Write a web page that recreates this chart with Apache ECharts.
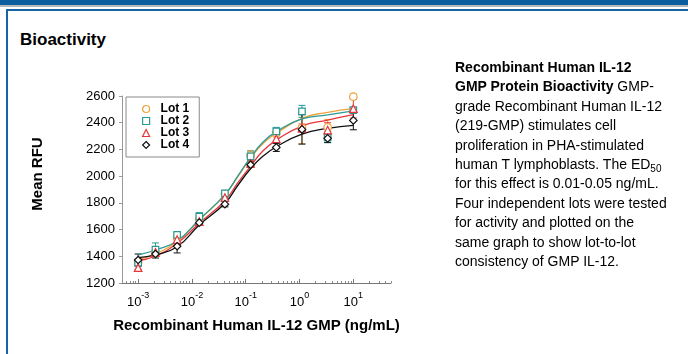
<!DOCTYPE html>
<html>
<head>
<meta charset="utf-8">
<script src="https://cdn.jsdelivr.net/npm/echarts@6/dist/echarts.min.js"></script>
<style>
  html, body { margin: 0; padding: 0; background: #fff; }
  body { width: 688px; height: 354px; overflow: hidden; position: relative; font-family: 'Liberation Sans', Arial, sans-serif; color: #000; }
  .topbar { position: absolute; left: 0; top: 0; width: 688px; height: 5px; background: #0b5d9f; }
  .grayline { position: absolute; left: 0; top: 5px; width: 688px; height: 2px; background: #b3b8bd; }
  .box { position: absolute; left: 6px; top: 9px; width: 720px; height: 400px; border-left: 2px solid #1763a6; border-top: 2px solid #1763a6; }
  .title { position: absolute; left: 20px; top: 30px; font-size: 17px; line-height: 20px; font-weight: bold; }
  #chart { position: absolute; left: 0; top: 0; width: 688px; height: 354px; }
  #desc { position: absolute; left: 455px; top: 58px; font-size: 14px; line-height: 19.4px; white-space: nowrap; }
  #desc sub { font-size: 10px; line-height: 0; vertical-align: -3px; }
</style>
</head>
<body>
<div class="topbar"></div>
<div class="grayline"></div>
<div class="box"></div>
<div class="title">Bioactivity</div>
<div id="chart"></div>
<div id="desc"><b>Recombinant Human IL-12</b><br><b>GMP Protein Bioactivity</b> GMP-<br>grade Recombinant Human IL-12<br>(219-GMP) stimulates cell<br>proliferation in PHA-stimulated<br>human T lymphoblasts. The ED<sub>50</sub><br>for this effect is 0.01-0.05 ng/mL.<br>Four independent lots were tested<br>for activity and plotted on the<br>same graph to show lot-to-lot<br>consistency of GMP IL-12.</div>
<script>
// concentrations (ng/mL)
const conc = [0.001, 0.0021, 0.0053, 0.0137, 0.041, 0.123, 0.37, 1.11, 3.33, 10]

const lotNames = ['Lot 1', 'Lot 2', 'Lot 3', 'Lot 4']

// measured means (RFU)
const lot1 = [1355, 1432, 1540, 1680, 1868, 2155, 2322, 2362, 2365, 2595]
const lot2 = [1352, 1450, 1560, 1697, 1871, 2148, 2335, 2485, 2290, 2495]
const lot3 = [1315, 1430, 1525, 1660, 1840, 2095, 2280, 2360, 2345, 2505]
const lot4 = [1372, 1417, 1475, 1652, 1790, 2085, 2215, 2350, 2283, 2417]

// error bar half-widths
const err1 = [20, 20, 20, 25, 20, 35, 30, 120, 60, 20]
const err2 = [20, 50, 15, 30, 20, 40, 30, 45, 40, 20]
const err3 = [15, 20, 20, 20, 20, 20, 60, 30, 55, 70]
const err4 = [45, 30, 50, 20, 20, 20, 30, 110, 30, 70]

// fitted curves at these concentrations
const fitConc = [0.001, 0.0021, 0.0053, 0.0137, 0.041, 0.071, 0.123, 0.21, 0.37, 1.11, 3.33, 10]
const fit1 = [1377, 1417, 1510, 1672, 1860, 1995, 2135, 2245, 2320, 2433, 2478, 2505]
const fit2 = [1410, 1447, 1514, 1675, 1862, 2000, 2140, 2255, 2333, 2428, 2458, 2488]
const fit3 = [1367, 1402, 1497, 1647, 1816, 1950, 2075, 2190, 2270, 2375, 2420, 2460]
const fit4 = [1390, 1410, 1472, 1634, 1797, 1930, 2055, 2150, 2220, 2315, 2358, 2380]

const yTicks = [1200, 1400, 1600, 1800, 2000, 2200, 2400, 2600]
const xDecades = [-3, -2, -1, 0, 1]

const colors = ['#eea23a', '#2a9a96', '#e8353b', '#111111']
const symbols = ['circle', 'rect', 'triangle', 'diamond']
const means = [lot1, lot2, lot3, lot4]
const errs = [err1, err2, err3, err4]
const fits = [fit1, fit2, fit3, fit4]

const X_MIN = -3.3
const X_MAX = 1.7

// log positions of the minor ticks
const minorTicks = []
for (let n = -4; n <= 1; n++) {
  for (let k = 2; k <= 9; k++) {
    const v = Math.log10(k) + n
    if (v > X_MIN && v < X_MAX) minorTicks.push(v)
  }
}

const toPts = (xs, vals) => xs.map((c, i) => [Math.log10(c), vals[i]])
const toBars = (vals, e) => conc.map((c, i) => [Math.log10(c), vals[i] - e[i], vals[i] + e[i]])

const font = "'Liberation Sans', Arial, sans-serif"

function errRender(color) {
  return (params, api) => {
    const x = api.value(0)
    const top = api.coord([x, api.value(2)])
    const bot = api.coord([x, api.value(1)])
    const w = 3.5
    const style = { stroke: color, lineWidth: 1 }
    return {
      type: 'group',
      children: [
        { type: 'line', shape: { x1: top[0], y1: top[1], x2: bot[0], y2: bot[1] }, style },
        { type: 'line', shape: { x1: top[0] - w, y1: top[1], x2: top[0] + w, y2: top[1] }, style },
        { type: 'line', shape: { x1: bot[0] - w, y1: bot[1], x2: bot[0] + w, y2: bot[1] }, style },
      ],
    }
  }
}

const series = []
means.forEach((vals, i) => {
  series.push({
    name: lotNames[i] + ' err',
    type: 'custom',
    renderItem: errRender(colors[i]),
    data: toBars(vals, errs[i]),
    encode: { x: 0, y: [1, 2] },
    z: 1,
  })
})
fits.forEach((vals, i) => {
  series.push({
    name: lotNames[i] + ' fit',
    type: 'line',
    data: toPts(fitConc, vals),
    smooth: 0.5,
    showSymbol: false,
    symbol: 'none',
    lineStyle: { color: colors[i], width: 1.3 },
    z: 2,
  })
})
means.forEach((vals, i) => {
  series.push({
    name: lotNames[i],
    type: 'scatter',
    data: toPts(conc, vals),
    symbol: symbols[i],
    symbolSize: i === 1 ? 6.5 : 7.5,
    itemStyle: { color: '#fff', borderColor: colors[i], borderWidth: 1.2, opacity: 1 },
    z: 3,
  })
})

const chart = echarts.init(document.getElementById('chart'))
chart.setOption({
  animation: false,
  textStyle: { fontFamily: font },
  grid: { left: 122, top: 96, width: 269, height: 187 },
  legend: {
    orient: 'vertical',
    left: 126,
    top: 97,
    padding: [6, 10, 6, 16],
    itemWidth: 7,
    itemHeight: 7,
    itemGap: 0,
    borderColor: '#8a8a8a',
    borderWidth: 1,
    selectedMode: false,
    textStyle: { fontFamily: font, fontSize: 12, fontWeight: 'bold', color: '#000', padding: [0, 0, 0, 6] },
    data: lotNames.map((n, i) => ({
      name: n,
      icon: symbols[i],
      itemStyle: { color: '#fff', borderColor: colors[i], borderWidth: 1.2 },
    })),
  },
  xAxis: [
    {
      type: 'value',
      min: X_MIN,
      max: X_MAX,
      position: 'bottom',
      name: 'Recombinant Human IL-12 GMP (ng/mL)',
      nameLocation: 'middle',
      nameGap: 35,
      nameTextStyle: { fontFamily: font, fontSize: 15, fontWeight: 'bold', color: '#000' },
      axisLine: { onZero: false, lineStyle: { color: '#777', width: 1 } },
      axisTick: { inside: true, length: 4, customValues: xDecades, lineStyle: { color: '#777' } },
      axisLabel: {
        customValues: xDecades,
        margin: 8,
        formatter: v => '{b|10}{s|' + v + '}',
        rich: {
          b: { fontFamily: font, fontSize: 13, color: '#000', lineHeight: 18, verticalAlign: 'bottom' },
          s: { fontFamily: font, fontSize: 9, color: '#000', lineHeight: 10, verticalAlign: 'top' },
        },
      },
      splitLine: { show: false },
    },
    {
      type: 'value',
      min: X_MIN,
      max: X_MAX,
      position: 'bottom',
      axisLine: { show: false, onZero: false },
      axisTick: { inside: true, length: 2, customValues: minorTicks, lineStyle: { color: '#888' } },
      axisLabel: { show: false },
      splitLine: { show: false },
    },
  ],
  yAxis: {
    type: 'value',
    min: 1200,
    max: 2600,
    interval: 200,
    axisLine: { show: true, onZero: false, lineStyle: { color: '#999', width: 1 } },
    axisTick: { show: true, length: 3, lineStyle: { color: '#999' } },
    axisLabel: { margin: 7, fontFamily: font, fontSize: 13, color: '#000', customValues: yTicks, formatter: v => String(v) },
    splitLine: { show: false },
  },
  graphic: [
    {
      type: 'text',
      x: 38,
      y: 174,
      rotation: Math.PI / 2,
      style: { text: 'Mean RFU', fontFamily: font, fontSize: 15, fontWeight: 'bold', fill: '#000', align: 'center', verticalAlign: 'middle' },
    },
  ],
  series,
})
</script>
</body>
</html>
